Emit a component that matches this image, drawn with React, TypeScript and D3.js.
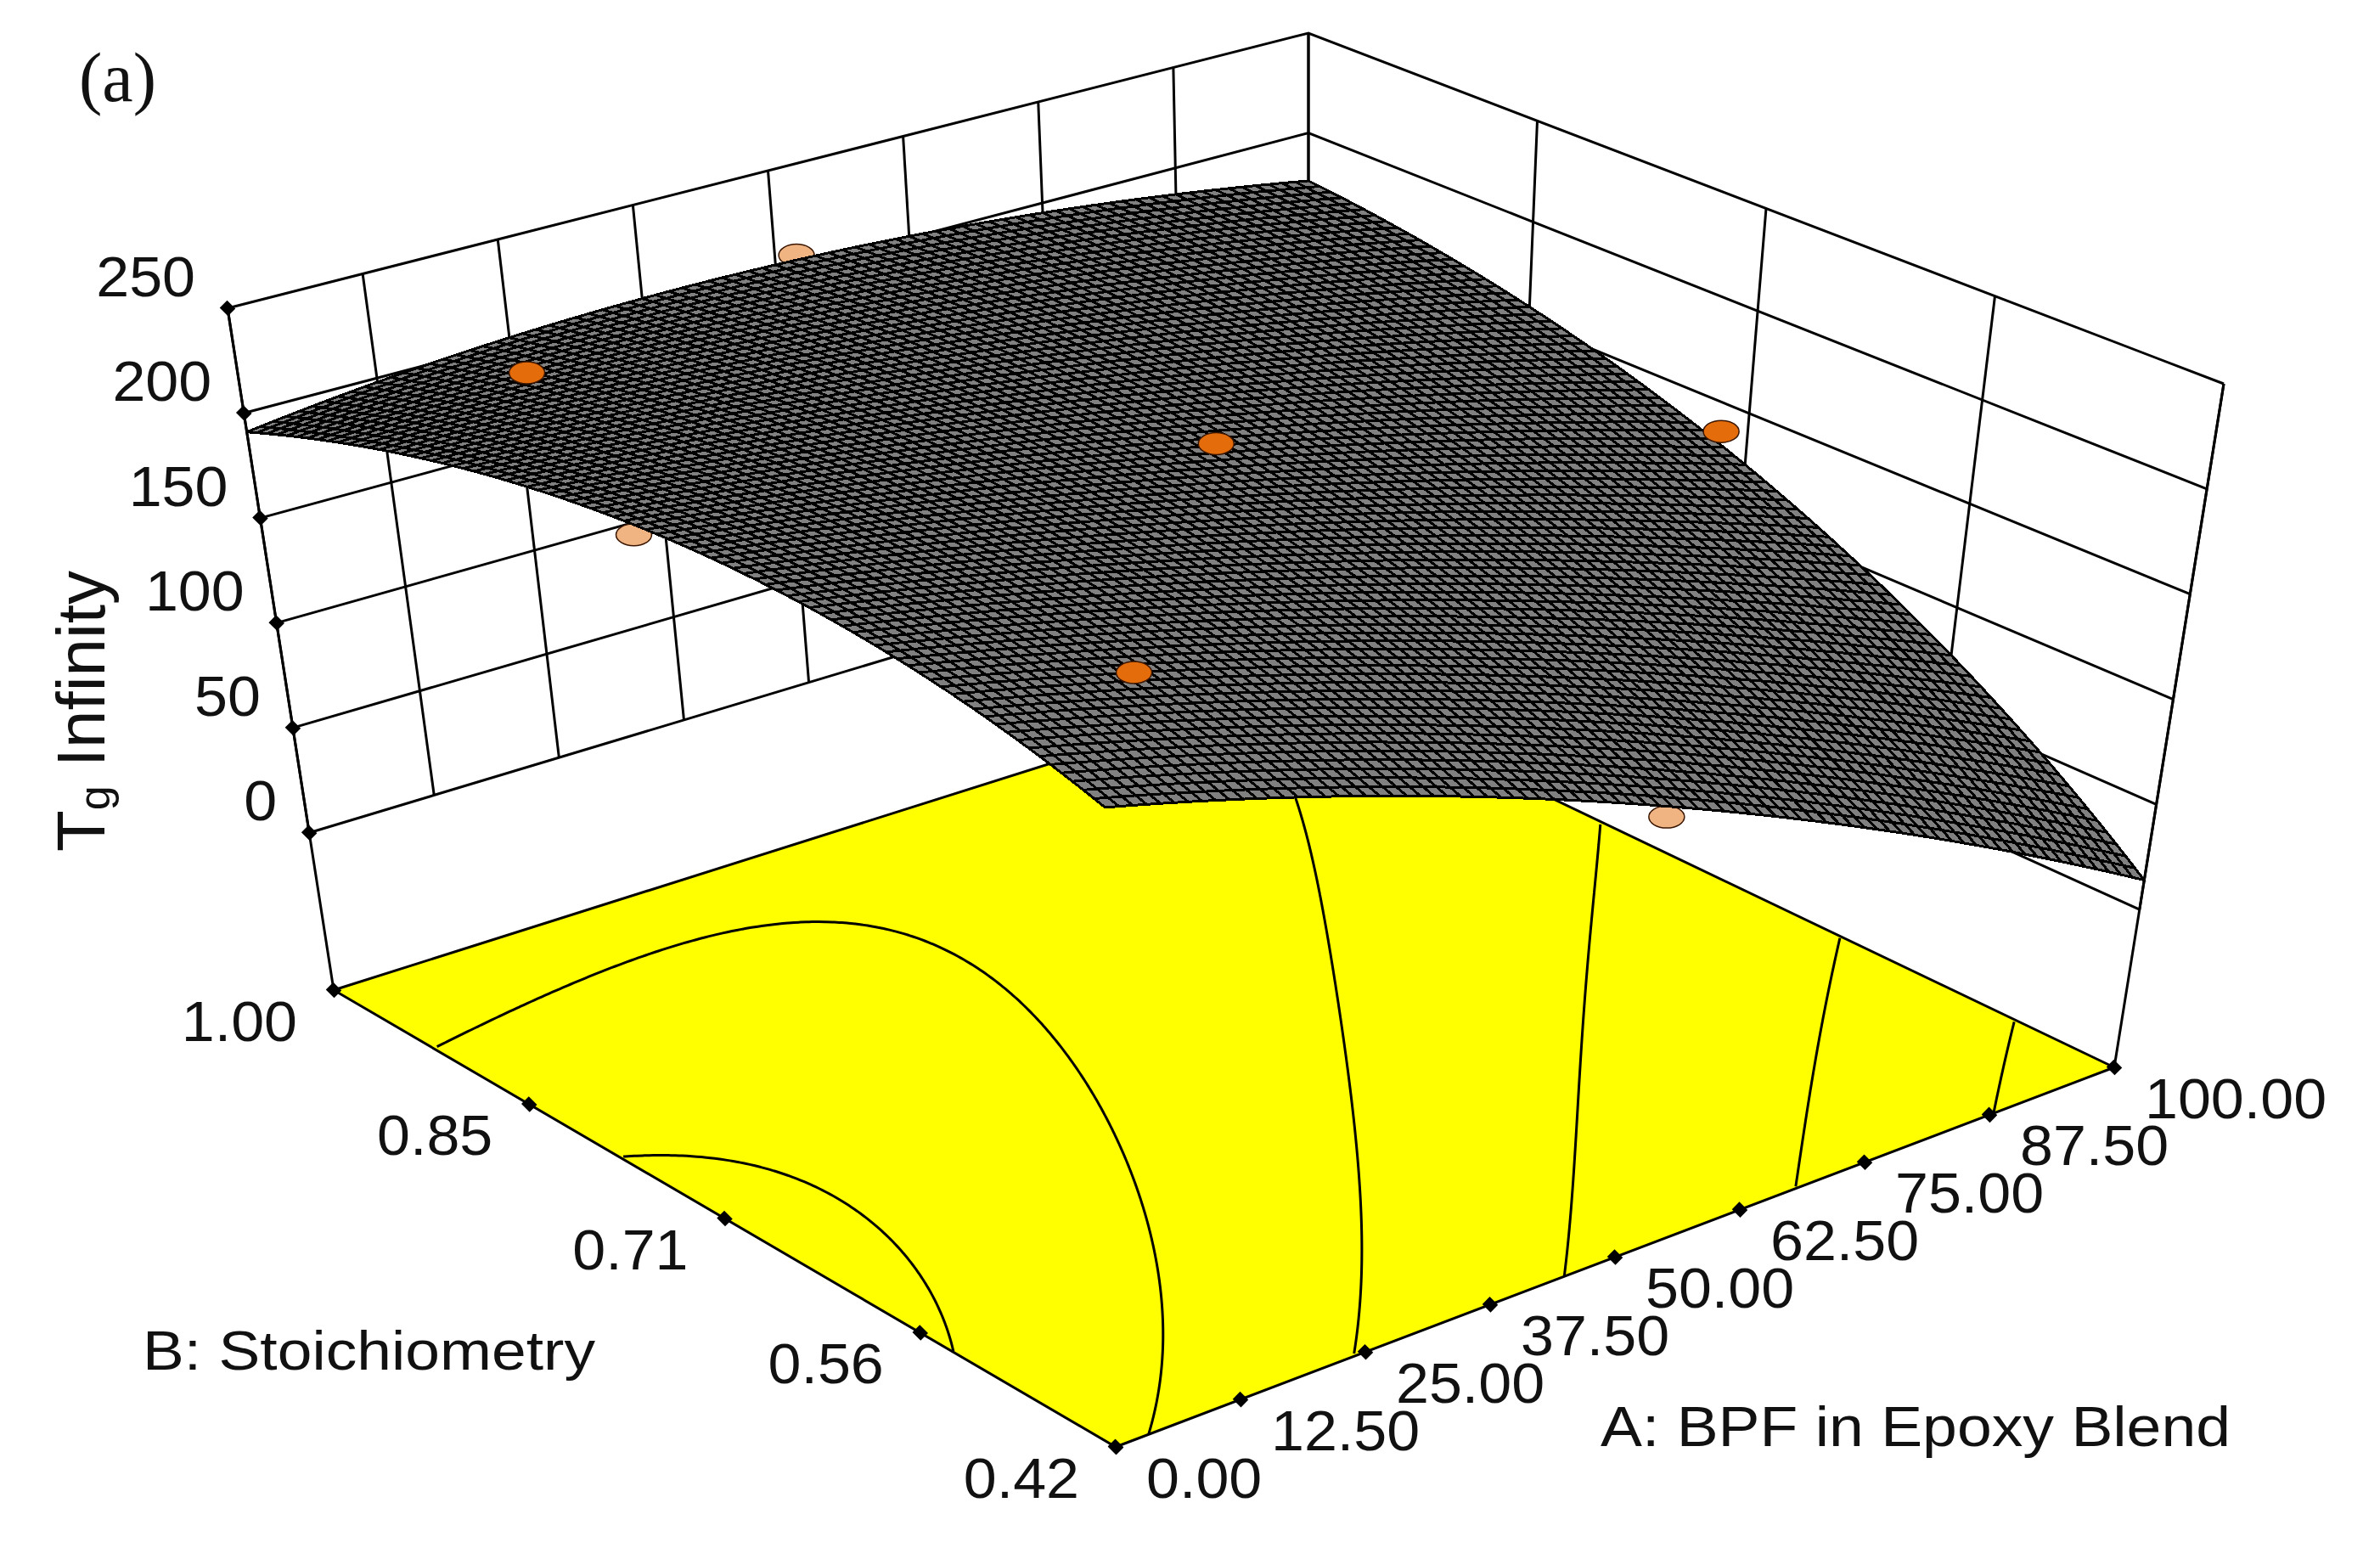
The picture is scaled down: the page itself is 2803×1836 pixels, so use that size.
import React from 'react';
import * as d3 from 'd3';

const W = 2803;
const H = 1836;

// factor levels and tick labels
const aTicks = [0, 12.5, 25, 37.5, 50, 62.5, 75, 87.5, 100];
const aLabels = ['0.00', '12.50', '25.00', '37.50', '50.00', '62.50', '75.00', '87.50', '100.00'];
const bTicks = [0.42, 0.565, 0.71, 0.855, 1.0];
const bLabels = ['0.42', '0.56', '0.71', '0.85', '1.00'];
const zTicks = [0, 50, 100, 150, 200, 250];
const zFloor = -75;

// Tg read at the corners, edge middles and centre of the surface
const gridA = [0, 50, 100];
const gridB = [0.42, 0.71, 1.0];
const tgAtB042 = [215, 135, 14];
const tgAtB071 = [241, 197, 125];
const tgAtB100 = [191, 204, 176];
const tgGrid = [tgAtB042, tgAtB071, tgAtB100];

const contourLevels = [47, 96, 145, 182, 211, 235];

// design points, above and below the surface
const pointsAbove = [
  { a: 15, b: 0.913, z: 229 },
  { a: 50, b: 0.71, z: 212 },
  { a: 100, b: 0.727, z: 136 },
  { a: 20, b: 0.548, z: 203 }
];
const pointsBelow = [
  { a: 52, b: 1.0, z: 206 },
  { a: 0, b: 0.733, z: 235 },
  { a: 52, b: 0.42, z: 126 }
];

// box corners on the page, [x, y] for b = 0.42 / 1 by a = 0 / 100
const floorCorners = [
  [[1314, 1704], [2490, 1257]],
  [[393, 1166], [1541, 803]]
];
const topCorners = [
  [[1300, 860], [2619, 452]],
  [[268, 363], [1541, 39]]
];

const uScale = d3.scaleLinear().domain([0, 100]).range([0, 1]);
const vScale = d3.scaleLinear().domain([0.42, 1]).range([0, 1]);
const wScale = d3.scaleLinear().domain([zFloor, 250]).range([0, 1]);

function project(a: number, b: number, z: number): [number, number] {
  const u = uScale(a);
  const v = vScale(b);
  const w = wScale(z);
  const quad = (c: number[][][], k: number) =>
    (1 - v) * ((1 - u) * c[0][0][k] + u * c[0][1][k]) + v * ((1 - u) * c[1][0][k] + u * c[1][1][k]);
  return [
    quad(floorCorners, 0) * (1 - w) + quad(topCorners, 0) * w,
    quad(floorCorners, 1) * (1 - w) + quad(topCorners, 1) * w
  ];
}

function lagrange(xs: number[], x: number) {
  return xs.map((xi, i) =>
    xs.reduce((acc, xj, j) => (j === i ? acc : (acc * (x - xj)) / (xi - xj)), 1)
  );
}

// smooth response between the values
function tg(a: number, b: number) {
  const la = lagrange(gridA, a);
  const lb = lagrange(gridB, b);
  return d3.sum(gridB, (_, i) => d3.sum(gridA, (__, j) => lb[i] * la[j] * tgGrid[i][j]));
}

const line = d3.line();
const MESH = 80;
const aMesh = d3.range(MESH + 1).map(i => (100 * i) / MESH);
const bMesh = d3.range(MESH + 1).map(i => 0.42 + (0.58 * i) / MESH);

const surfaceOutline = [
  ...aMesh.map(a => project(a, 0.42, tg(a, 0.42))),
  ...bMesh.map(b => project(100, b, tg(100, b))),
  ...[...aMesh].reverse().map(a => project(a, 1, tg(a, 1))),
  ...[...bMesh].reverse().map(b => project(0, b, tg(0, b)))
];
const surfaceGrid =
  aMesh.map(a => line(bMesh.map(b => project(a, b, tg(a, b))))).join('') +
  bMesh.map(b => line(aMesh.map(a => project(a, b, tg(a, b))))).join('');

// contour lines on the floor
const CN = 241;
const gridValues: number[] = [];
for (let j = 0; j < CN; j++) {
  for (let i = 0; i < CN; i++) {
    gridValues.push(tg((100 * i) / (CN - 1), 0.42 + (0.58 * j) / (CN - 1)));
  }
}
const contourPath = contourLevels.map(level => {
  const geo = d3.contours().size([CN, CN]).smooth(true).contour(gridValues, level);
  const segs: string[] = [];
  geo.coordinates.forEach(poly =>
    poly.forEach(ring => {
      // drop the part of each ring which runs along the border of the grid
      let run: [number, number][] = [];
      ring.forEach(([cx, cy]) => {
        const onEdge = cx <= 0.5 || cy <= 0.5 || cx >= CN - 0.5 || cy >= CN - 0.5;
        if (onEdge) {
          if (run.length > 1) segs.push(line(run) as string);
          run = [];
        } else {
          const a = (100 * (cx - 0.5)) / (CN - 1);
          const b = 0.42 + (0.58 * (cy - 0.5)) / (CN - 1);
          run.push(project(a, b, zFloor));
        }
      });
      if (run.length > 1) segs.push(line(run) as string);
    })
  );
  return segs.join('');
});

const diamond = d3.symbol().type(d3.symbolSquare).size(190)() as string;
const FS = 67;
const STRETCH = 1.045;
const INK = '#000';

// the original labels are a little wider than the font
const digitsWidth = (s: string) => d3.sum(s.split(''), c => (c === '.' ? 0.278 : 0.556)) * FS * STRETCH;

function Dot({ p, fill }: { p: { a: number; b: number; z: number }; fill: string }) {
  const [x, y] = project(p.a, p.b, p.z);
  return <ellipse cx={x} cy={y} rx={21} ry={13} fill={fill} stroke="#3a1500" strokeWidth={1.5} />;
}

function Tick({ at }: { at: [number, number] }) {
  return <path d={diamond} transform={`translate(${at[0]},${at[1]}) rotate(45) scale(1,0.9)`} />;
}

export default function App() {
  const floor = [
    project(0, 0.42, zFloor),
    project(100, 0.42, zFloor),
    project(100, 1, zFloor),
    project(0, 1, zFloor)
  ];
  return (
    <svg
      width={W}
      height={H}
      style={{ position: 'absolute', left: 0, top: 0, background: '#fff' }}
      fontFamily="'Liberation Sans', Arial, sans-serif"
    >
      {/* back walls */}
      <g stroke={INK} strokeWidth={3} fill="none">
        {zTicks.map(z => (
          <path key={z} d={line([project(0, 1, z), project(100, 1, z), project(100, 0.42, z)]) as string} />
        ))}
        {aTicks.map(a => (
          <path key={a} d={line([project(a, 1, 0), project(a, 1, 250)]) as string} />
        ))}
        {bTicks.map(b => (
          <path key={b} d={line([project(100, b, 0), project(100, b, 250)]) as string} />
        ))}
        <path d={line([project(0, 1, zFloor), project(0, 1, 250)]) as string} />
        <path d={line([project(100, 0.42, zFloor), project(100, 0.42, 250)]) as string} />
      </g>

      {/* floor with the contours */}
      <path d={line(floor) + 'Z'} fill="#ffff00" stroke={INK} strokeWidth={3} />
      <g fill="none" stroke={INK} strokeWidth={3}>
        {contourPath.map((d, i) => (
          <path key={i} d={d} />
        ))}
      </g>

      {pointsBelow.map((p, i) => (
        <Dot key={i} p={p} fill="#f0b482" />
      ))}

      {/* response surface */}
      <path d={line(surfaceOutline) + 'Z'} fill="#808080" stroke={INK} strokeWidth={2} />
      <path d={surfaceGrid} fill="none" stroke={INK} strokeWidth={3} shapeRendering="crispEdges" />

      {pointsAbove.map((p, i) => (
        <Dot key={i} p={p} fill="#e46c0a" />
      ))}

      {/* ticks */}
      <g fill={INK}>
        {aTicks.map(a => (
          <Tick key={a} at={project(a, 0.42, zFloor)} />
        ))}
        {bTicks.map(b => (
          <Tick key={b} at={project(0, b, zFloor)} />
        ))}
        {zTicks.map(z => (
          <Tick key={z} at={project(0, 1, z)} />
        ))}
      </g>

      {/* tick labels */}
      <g fontSize={FS} fill="#111">
        {aTicks.map((a, i) => {
          const [x, y] = project(a, 0.42, zFloor);
          return (
            <text
              key={a}
              x={x + 36}
              y={y + 36}
              dominantBaseline="central"
              textLength={digitsWidth(aLabels[i])}
              lengthAdjust="spacingAndGlyphs"
            >
              {aLabels[i]}
            </text>
          );
        })}
        {bTicks.map((b, i) => {
          const [x, y] = project(0, b, zFloor);
          return (
            <text
              key={b}
              x={x - 43}
              y={y + 36}
              textAnchor="end"
              dominantBaseline="central"
              textLength={digitsWidth(bLabels[i])}
              lengthAdjust="spacingAndGlyphs"
            >
              {bLabels[i]}
            </text>
          );
        })}
        {zTicks.map(z => {
          const [x, y] = project(0, 1, z);
          return (
            <text
              key={z}
              x={x - 38}
              y={y - 38}
              textAnchor="end"
              dominantBaseline="central"
              textLength={digitsWidth(String(z))}
              lengthAdjust="spacingAndGlyphs"
            >
              {z}
            </text>
          );
        })}
      </g>

      {/* titles */}
      <text x={93} y={119} fontSize={82} fontFamily="'Liberation Serif', serif" fill="#111">
        (a)
      </text>
      <text transform="translate(123,1003) rotate(-90)" fontSize={80} fill="#111">
        T
        <tspan fontSize={52} dy={6}>
          g
        </tspan>
        <tspan dy={-6} dx={22}>
          Infinity
        </tspan>
      </text>
      <text x={168} y={1613} fontSize={65} fill="#111" textLength={533} lengthAdjust="spacingAndGlyphs">
        B: Stoichiometry
      </text>
      <text x={1885} y={1703} fontSize={66} fill="#111" textLength={742} lengthAdjust="spacingAndGlyphs">
        A: BPF in Epoxy Blend
      </text>
    </svg>
  );
}
